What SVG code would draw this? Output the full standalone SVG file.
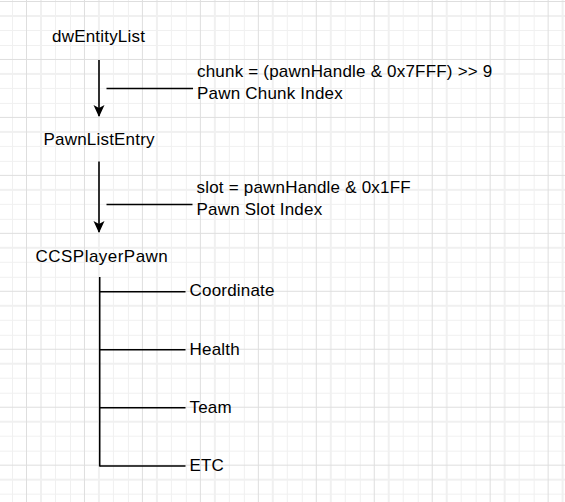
<svg xmlns="http://www.w3.org/2000/svg" width="565" height="502" viewBox="0 0 565 502">
<defs>
<pattern id="grid" patternUnits="userSpaceOnUse" x="26" y="1" width="57.96" height="57.96">
<g shape-rendering="crispEdges" fill="none">
<path d="M14.99 0V57.96M29.48 0V57.96M43.97 0V57.96M0 14.99H57.96M0 29.48H57.96M0 43.97H57.96" stroke="#f0f0f0" stroke-width="1"/>
<path d="M0.5 0V57.96M0 0.5H57.96" stroke="#dedede" stroke-width="1"/>
</g>
</pattern>
<marker id="arrow" viewBox="0 0 12 12" refX="11" refY="6" markerWidth="12" markerHeight="12" markerUnits="userSpaceOnUse" orient="auto">
<path d="M0 0.5L12 6L0 11.5L3 6Z" fill="#000"/>
</marker>
</defs>
<style>
text{font-family:"Liberation Sans",Arial,sans-serif;font-size:17px;fill:#000;letter-spacing:0.2px}
.c{stroke:#000;stroke-width:1.6;fill:none}
</style>
<rect width="565" height="502" fill="#fff"/>
<rect width="565" height="502" fill="url(#grid)"/>
<g id="connectors">
<path class="c" d="M99 60V116" marker-end="url(#arrow)"/>
<path class="c" d="M106.5 88.5H193"/>
<path class="c" d="M99 161.5V232" marker-end="url(#arrow)"/>
<path class="c" d="M106.5 204.5H192.5"/>
<path class="c" d="M99.7 277V466.5"/>
<path class="c" d="M99.7 291.7H185.5M99.7 349.7H185.5M99.7 407.7H185.5M99.7 466H185.5"/>
</g>
<g id="dwEntityList"><text x="52" y="42">dwEntityList</text></g>
<g id="chunk-label"><text x="197" y="77">chunk = (pawnHandle &amp; 0x7FFF) &gt;&gt; 9</text><text x="197" y="98.5">Pawn Chunk Index</text></g>
<g id="PawnListEntry"><text x="43.5" y="145">PawnListEntry</text></g>
<g id="slot-label"><text x="196.5" y="193">slot = pawnHandle &amp; 0x1FF</text><text x="196.5" y="214.5">Pawn Slot Index</text></g>
<g id="CCSPlayerPawn"><text x="35.5" y="261.5" textLength="132.5" lengthAdjust="spacing">CCSPlayerPawn</text></g>
<g id="Coordinate"><text x="189.5" y="296">Coordinate</text></g>
<g id="Health"><text x="189.5" y="354.5">Health</text></g>
<g id="Team"><text x="189.5" y="412.5">Team</text></g>
<g id="ETC"><text x="189.5" y="471">ETC</text></g>
</svg>
